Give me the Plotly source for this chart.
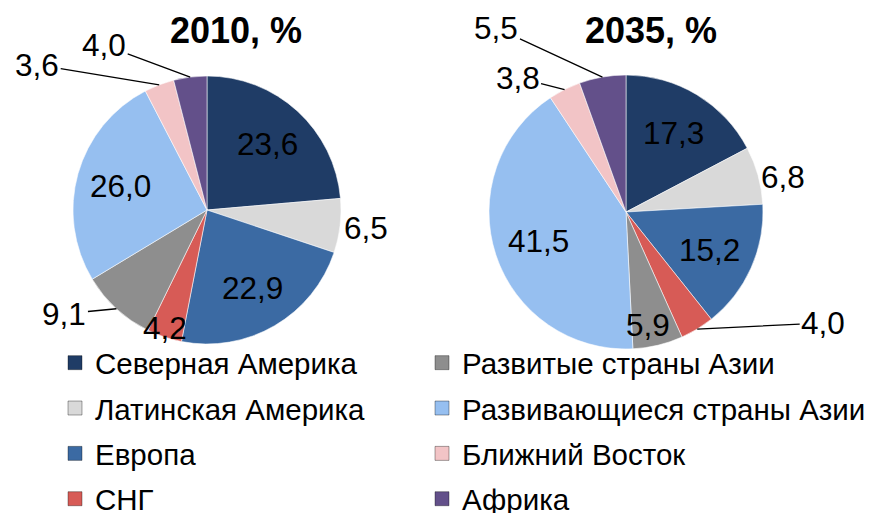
import math
import plotly.graph_objects as go

# ---------------- data ----------------
regions = ["Северная Америка", "Латинская Америка", "Европа", "СНГ",
           "Развитые страны Азии", "Развивающиеся страны Азии",
           "Ближний Восток", "Африка"]
values_2010 = [23.6, 6.5, 22.9, 4.2, 9.1, 26.0, 3.6, 4.0]
values_2035 = [17.3, 6.8, 15.2, 4.0, 5.9, 41.5, 3.8, 5.5]
titles = ["2010, %", "2035, %"]

# ---------------- style ----------------
colors = ["#1f3c66", "#d9d9d9", "#3b6aa3", "#d75b56",
          "#8e8e8e", "#96bff0", "#f2c4c6", "#63508a"]
FONT = "Liberation Sans, Arial, sans-serif"
OFF = 8                      # page body margin around the figure
W, H = 872 - OFF, 513 - OFF  # figure size so it fills the window


def px2paper(x, y):
    """page pixel -> paper coordinates"""
    return (x - OFF) / W, 1 - (y - OFF) / H


# pie geometry in page pixels: centre x, centre y, radius
geoms = [(207, 210, 134), (626, 212, 137)]
title_pos = [(236, 30), (651, 30)]
IN_R = 0.67
# label placement per slice: "in" = inside, else (dx, dy, leader line) from slice edge
placement = [
    {0: "in", 1: (26, 2, False), 2: "in", 3: (1, -9, False), 4: (-52, 5, True),
     5: "in", 6: (-122, -20, True), 7: (-86, -32, True)},
    {0: "in", 1: (25, 2, False), 2: "in", 3: (126, -6, True), 4: (-10, -20, False),
     5: "in", 6: (-47, -12, True), 7: (-106, -49, True)},
]


def fmt(v):
    return f"{v:.1f}".replace(".", ",")


fig = go.Figure()
annotations = []
label_font = dict(family=FONT, size=31.5, color="black")

for k, vals in enumerate([values_2010, values_2035]):
    cx, cy, r = geoms[k]
    x0, y1 = px2paper(cx - r, cy - r)
    x1, y0 = px2paper(cx + r, cy + r)
    fig.add_trace(go.Pie(
        labels=regions, values=vals, sort=False, direction="clockwise",
        rotation=0, domain=dict(x=[x0, x1], y=[y0, y1]),
        marker=dict(colors=colors, line=dict(color="rgba(255,255,255,0.55)", width=1)),
        textinfo="none", showlegend=False, hoverinfo="label+value",
    ))
    total = sum(vals)
    cum = 0.0
    for i, v in enumerate(vals):
        mid = cum + v / 2
        cum += v
        th = 2 * math.pi * mid / total
        spec = placement[k][i]
        if spec == "in":
            lx = cx + IN_R * r * math.sin(th)
            ly = cy - IN_R * r * math.cos(th)
            ax_, ay_ = px2paper(lx, ly)
            annotations.append(dict(
                x=ax_, y=ay_, xref="paper", yref="paper", text=fmt(v),
                showarrow=False, xanchor="center", yanchor="middle", font=label_font))
            continue
        ex = cx + r * math.sin(th)
        ey = cy - r * math.cos(th)
        px_, py_ = px2paper(ex, ey)
        dx, dy, line = spec
        if line:
            annotations.append(dict(
                x=px_, y=py_, xref="paper", yref="paper",
                text=fmt(v), showarrow=True, ax=dx, ay=dy,
                xanchor="center", yanchor="middle",
                arrowhead=0, arrowwidth=1.3, arrowcolor="black", standoff=0,
                font=label_font))
        else:
            annotations.append(dict(
                x=px_, y=py_, xref="paper", yref="paper",
                text=fmt(v), showarrow=False, xshift=dx, yshift=-dy,
                xanchor="center", yanchor="middle", font=label_font))
    tx, ty = px2paper(*title_pos[k])
    annotations.append(dict(
        x=tx, y=ty, xref="paper", yref="paper",
        text="<b>" + titles[k] + "</b>", showarrow=False,
        xanchor="center", yanchor="middle",
        font=dict(family=FONT, size=36, color="black")))

# legend entries (two columns)
for i, name in enumerate(regions):
    fig.add_trace(go.Scatter(
        x=[None], y=[None], mode="markers", name=name, legendgroup=name,
        marker=dict(symbol="square", size=14, color=colors[i],
                    line=dict(color="rgba(0,0,0,0.35)", width=1)),
        legend="legend" if i < 4 else "legend2", hoverinfo="skip",
    ))

legend_common = dict(font=dict(family=FONT, size=29.5, color="black"),
                     bgcolor="rgba(0,0,0,0)", borderwidth=0,
                     yanchor="top", xanchor="left", traceorder="grouped",
                     tracegroupgap=4)
lx1, ly = px2paper(55, 337)
lx2, _ = px2paper(422, 337)

fig.update_layout(
    width=W, height=H,
    margin=dict(l=0, r=0, t=0, b=0, autoexpand=False),
    paper_bgcolor="white", plot_bgcolor="white",
    xaxis=dict(visible=False), yaxis=dict(visible=False),
    annotations=annotations,
    legend=dict(x=lx1, y=ly, **legend_common),
    legend2=dict(x=lx2, y=ly, **legend_common),
)

fig.write_html("out.html")
